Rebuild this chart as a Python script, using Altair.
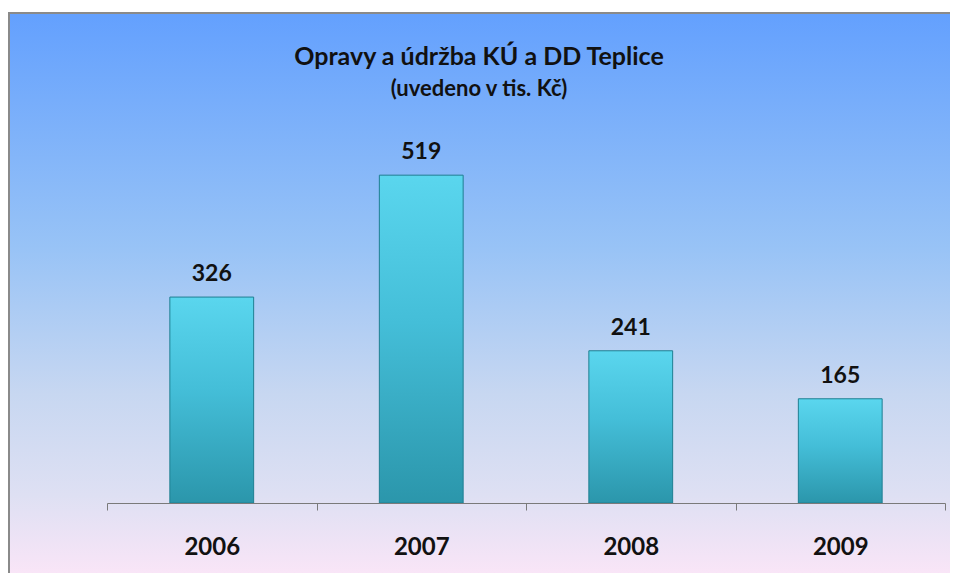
import altair as alt
import pandas as pd

years = ["2006", "2007", "2008", "2009"]
values = [326, 519, 241, 165]

title_text = "Opravy a údržba KÚ a DD Teplice"
subtitle_text = "(uvedeno v tis. Kč)"

df = pd.DataFrame({"rok": years, "hodnota": values})

W, H = 942, 561
FONT = "Lato"

x_enc = alt.X(
    "rok:N",
    sort=years,
    scale=alt.Scale(range=[99, 937], paddingInner=0, paddingOuter=0),
    axis=alt.Axis(
        title=None,
        labelAngle=0,
        labelFont=FONT,
        labelFontSize=24,
        labelFontWeight="bold",
        labelColor="#111111",
        labelPadding=25,
        tickBand="extent",
        tickSize=7,
        tickColor="#7a7a7a",
        domainColor="#7a7a7a",
        domainWidth=1,
        tickWidth=1,
        grid=False,
        offset=-70,
        zindex=1,
    ),
)
y_enc = alt.Y("hodnota:Q", scale=alt.Scale(domain=[0, 600], range=[491, 112]), axis=None)

background = alt.Chart(df).mark_rect(
    color=alt.Gradient(
        gradient="linear",
        stops=[
            alt.GradientStop(color="#63a0fe", offset=0),
            alt.GradientStop(color="#98c3f6", offset=0.42),
            alt.GradientStop(color="#c7d7f1", offset=0.68),
            alt.GradientStop(color="#dee0f3", offset=0.86),
            alt.GradientStop(color="#f9e5f7", offset=1),
        ],
        x1=0, x2=0, y1=0, y2=1,
    ),
).encode(
    x=alt.value(0),
    x2=alt.value(W),
    y=alt.value(0),
    y2=alt.value(H),
)

border_left = alt.Chart(df).mark_rule(color="#8a8a8a", strokeWidth=2).encode(
    x=alt.value(1), y=alt.value(0), y2=alt.value(H)
)
border_top = alt.Chart(df).mark_rule(color="#8a8a8a", strokeWidth=2).encode(
    x=alt.value(0), x2=alt.value(W), y=alt.value(1)
)

bars = alt.Chart(df).mark_bar(
    width=alt.RelativeBandSize(0.4),
    color=alt.Gradient(
        gradient="linear",
        stops=[
            alt.GradientStop(color="#5ad6ee", offset=0),
            alt.GradientStop(color="#44bed8", offset=0.45),
            alt.GradientStop(color="#2b96ab", offset=1),
        ],
        x1=0, x2=0, y1=0, y2=1,
    ),
    stroke="#1f7f92",
    strokeWidth=1,
).encode(x=x_enc, y=y_enc)

labels = alt.Chart(df).mark_text(
    font=FONT,
    fontSize=23,
    fontWeight="bold",
    color="#111111",
    baseline="alphabetic",
    dy=-16,
).encode(x=alt.X("rok:N", sort=years), y=y_enc, text="hodnota:Q")

chart = (
    alt.layer(background, border_left, border_top, bars, labels)
    .properties(
        width=W,
        height=H,
        autosize=alt.AutoSizeParams(type="none"),
        padding={"left": 0, "top": 4, "right": 0, "bottom": 0},
        title=alt.TitleParams(
            text=title_text,
            subtitle=subtitle_text,
            font=FONT,
            fontSize=25,
            fontWeight="bold",
            color="#111111",
            subtitleFont=FONT,
            subtitleFontSize=22,
            subtitleFontWeight="bold",
            subtitleColor="#111111",
            subtitlePadding=9,
            anchor="middle",
            frame="group",
            offset=-89,
        ),
    )
    .configure_view(stroke=None)
)

chart.save("out.html", embed_options={"renderer": "svg", "actions": False})
